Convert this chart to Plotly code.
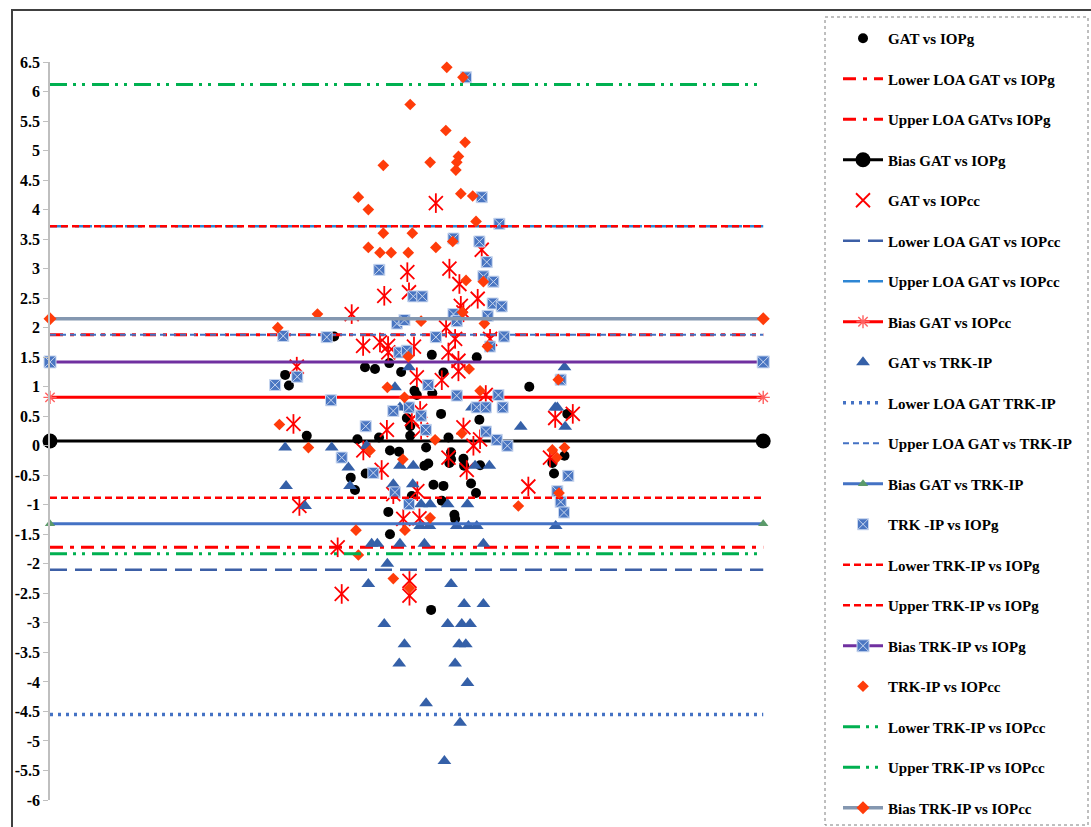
import plotly.graph_objects as go

# ---- Bland-Altman differences (y) against mean IOP (x), mmHg ----
gat_iopg_x = [11.95, 9.89, 10.05, 10.80, 12.93, 13.25, 13.67, 14.27, 14.77, 16.06,
              17.95, 16.55, 15.33, 15.43, 16.08, 15.01, 15.15, 15.15, 16.45, 18.06,
              13.84, 16.76, 14.30, 14.68, 15.82, 16.87, 16.87, 16.80, 17.39, 17.42,
              15.75, 15.91, 18.09, 12.65, 12.83, 13.28, 16.13, 16.55, 17.71, 17.92,
              15.22, 16.48, 17.01, 17.04, 14.23, 14.30, 16.03, 20.16, 21.76, 21.64,
              21.13, 21.20]
gat_iopg_y = [1.85, 1.20, 1.02, 0.17, 0.11, 1.33, 1.30, 1.40, 1.25, 1.54,
              1.50, 1.24, 0.93, 0.86, 0.89, 0.47, 0.33, 0.17, 0.54, 0.44,
              0.14, 0.14, -0.08, -0.10, -0.03, -0.11, -0.23, -0.29, -0.22, -0.34,
              -0.34, -0.30, -0.33, -0.54, -0.75, -0.47, -0.66, -0.68, -0.64, -0.80,
              -0.85, -0.93, -1.17, -1.24, -1.12, -1.50, -2.78, 1.00, 0.54, -0.17,
              -0.29, -0.47]

gat_iopcc_x = [16.23, 18.16, 16.80, 15.03, 17.22, 14.06, 15.10, 17.28, 17.39, 17.99,
               12.69, 16.66, 17.04, 18.51, 13.17, 13.88, 14.22, 10.38, 10.24, 15.31,
               15.43, 16.76, 17.18, 17.18, 16.48, 18.33, 15.22, 15.57, 15.61, 14.17,
               17.39, 17.81, 18.09, 13.18, 16.76, 13.95, 17.53, 14.44, 15.45, 10.49,
               14.86, 15.54, 12.10, 21.25, 21.99, 21.03, 20.12, 12.27, 15.12, 15.12,
               14.23]
gat_iopcc_y = [4.11, 3.32, 3.00, 2.94, 2.74, 2.54, 2.60, 2.37, 2.26, 2.49,
               2.23, 2.00, 1.81, 1.81, 1.69, 1.75, 1.69, 1.34, 0.37, 1.68,
               1.16, 1.58, 1.44, 1.26, 1.11, 0.86, 0.45, 0.59, 0.27, 0.27,
               0.31, 0.00, 0.11, -0.08, -0.20, -0.41, -0.41, -0.82, -0.77, -1.02,
               -1.24, -1.23, -1.72, 0.47, 0.54, -0.20, -0.69, -2.51, -2.29, -2.54,
               1.58]

gat_trk_x = [9.89, 11.85, 9.93, 10.73, 14.51, 14.72, 15.10, 15.10, 13.32, 12.55,
             12.62, 14.72, 15.28, 14.44, 15.26, 15.61, 15.99, 16.73, 17.56, 17.75,
             17.88, 18.48, 15.57, 15.96, 17.11, 17.60, 17.95, 13.53, 13.77, 14.72,
             15.75, 18.23, 19.80, 14.19, 13.39, 16.87, 17.42, 18.23, 14.06, 16.73,
             17.32, 17.67, 14.91, 17.21, 17.49, 14.69, 17.04, 17.56, 15.82, 17.25,
             16.59, 21.64, 21.25, 21.34, 21.67, 21.27]
gat_trk_y = [-0.03, -0.03, -0.68, -1.02, 0.99, 0.65, 0.65, 1.33, 0.00, -0.37,
             -0.68, -0.34, -0.34, -0.65, -0.65, -0.99, -0.99, -0.99, -0.99, 0.65,
             -0.34, -0.34, -1.36, -1.36, -1.36, -1.36, -1.36, -1.66, -1.66, -1.66,
             -1.66, -1.66, 0.32, -2.00, -2.34, -2.34, -2.68, -2.68, -3.02, -3.02,
             -3.02, -3.02, -3.36, -3.36, -3.36, -3.69, -3.69, -4.02, -4.36, -4.69,
             -5.34, 1.33, 0.65, 0.65, 0.32, -1.36]

trk_iopg_x = [17.50, 18.16, 18.90, 16.97, 18.06, 18.37, 18.23, 18.65, 13.85, 15.28,
              15.66, 18.62, 19.00, 18.41, 14.59, 14.91, 16.97, 17.11, 9.81, 11.64,
              16.23, 19.10, 18.51, 9.47, 10.40, 11.82, 13.28, 12.27, 13.60, 14.69,
              15.01, 15.91, 14.44, 15.10, 15.61, 15.81, 17.11, 18.86, 17.95, 18.33,
              19.04, 18.34, 18.79, 19.24, 14.51, 15.10, 21.48, 21.80, 21.34, 21.48,
              21.62]
trk_iopg_y = [6.24, 4.21, 3.76, 3.51, 3.46, 3.11, 2.87, 2.78, 2.98, 2.53,
              2.53, 2.41, 2.36, 2.20, 2.07, 2.13, 2.23, 2.11, 1.86, 1.84,
              1.84, 1.85, 1.68, 1.03, 1.17, 0.77, 0.33, -0.20, -0.46, 1.58,
              1.61, 1.03, 0.59, 0.65, 0.51, 0.27, 0.85, 0.86, 0.65, 0.65,
              0.65, 0.24, 0.10, 0.00, -0.79, -0.99, 1.12, -0.51, -0.77, -0.95,
              -1.13]

trk_iopcc_x = [16.69, 17.37, 15.15, 16.65, 17.46, 17.18, 17.11, 17.07, 15.99, 14.02,
               12.97, 13.39, 17.28, 17.78, 17.92, 14.02, 15.24, 13.39, 13.88, 14.35,
               15.07, 16.23, 16.94, 17.50, 18.23, 11.25, 9.58, 15.61, 18.27, 17.35,
               18.40, 17.63, 15.07, 14.19, 18.09, 14.91, 9.65, 10.87, 13.46, 16.20,
               17.32, 14.84, 12.87, 14.93, 15.99, 19.70, 12.97, 14.44, 15.12, 21.38,
               21.13, 21.32, 21.64, 21.41]
trk_iopcc_y = [6.41, 6.24, 5.78, 5.34, 5.14, 4.90, 4.80, 4.67, 4.80, 4.75,
               4.21, 4.00, 4.27, 4.23, 3.80, 3.60, 3.60, 3.36, 3.27, 3.27,
               3.27, 3.36, 3.46, 2.80, 2.78, 2.23, 2.00, 2.11, 2.07, 2.26,
               1.68, 1.30, 1.51, 0.99, 0.93, 0.82, 0.36, -0.03, -0.08, 0.10,
               0.21, -0.23, -1.43, -1.43, -1.22, -1.02, -1.85, -2.25, -2.41, 1.12,
               -0.07, -0.20, -0.03, -0.80]

# ---- bias and limits of agreement ----
bias_gat_iopg, lower_gat_iopg, upper_gat_iopg = 0.08, -1.72, 1.88
bias_gat_iopcc, lower_gat_iopcc, upper_gat_iopcc = 0.82, -2.10, 3.72
bias_gat_trk, lower_gat_trk, upper_gat_trk = -1.32, -4.55, 1.88
bias_trk_iopg, lower_trk_iopg, upper_trk_iopg = 1.42, -0.88, 3.72
bias_trk_iopcc, lower_trk_iopcc, upper_trk_iopcc = 2.15, -1.83, 6.12

line_x = [0, 30]   # horizontal reference lines span the mean-IOP range

y_ticks = [6.5 - 0.5 * i for i in range(26)]
y_tick_text = [("%g" % v) for v in y_ticks]

RED = "#ff0000"
GREEN = "#00b050"
BLUE = "#4472c4"
DARK_BLUE = "#3c5fa6"
LIGHT_BLUE = "#2e86d4"
TRI_BLUE = "#3560a8"
SQ_BLUE = "#4a76c2"
ORANGE = "#ff3c0a"

fig = go.Figure()
gid = [0]


def add(trace):
    gid[0] += 1
    trace.legendgroup = "g%d" % gid[0]
    trace.cliponaxis = False
    fig.add_trace(trace)


def hline(name, level, color, dash, width):
    add(go.Scatter(x=line_x, y=[level, level], mode="lines", name=name,
                   line=dict(color=color, dash=dash, width=width)))


# GAT vs IOPg
add(go.Scatter(x=gat_iopg_x, y=gat_iopg_y, mode="markers", name="GAT vs IOPg",
               marker=dict(symbol="circle", size=10, color="black")))
hline("Lower LOA GAT vs IOPg", lower_gat_iopg, RED, "13px,7px,4px,7px", 3)
hline("Upper LOA GATvs IOPg", upper_gat_iopg, RED, "13px,7px,4px,7px", 3)
add(go.Scatter(x=line_x, y=[bias_gat_iopg] * 2, mode="lines+markers", name="Bias GAT vs IOPg",
               line=dict(color="black", width=3),
               marker=dict(symbol="circle", size=15, color="black")))

# GAT vs IOPcc (six-armed star: x plus vertical stroke)
add(go.Scatter(x=gat_iopcc_x, y=gat_iopcc_y, mode="markers", name="GAT vs IOPcc",
               marker=dict(symbol="x-thin-open", size=14, color=RED, line=dict(width=1.8, color=RED))))
fig.add_trace(go.Scatter(x=gat_iopcc_x, y=gat_iopcc_y, mode="markers", showlegend=False,
                         legendgroup="g%d" % gid[0], cliponaxis=False,
                         marker=dict(symbol="line-ns-open", size=14, color=RED,
                                     line=dict(width=1.8, color=RED))))
hline("Lower LOA GAT vs IOPcc", lower_gat_iopcc, DARK_BLUE, "17px,8px", 2.5)
hline("Upper LOA GAT vs IOPcc", upper_gat_iopcc, LIGHT_BLUE, "17px,8px", 2.5)
add(go.Scatter(x=line_x, y=[bias_gat_iopcc] * 2, mode="lines+markers", name="Bias GAT vs IOPcc",
               line=dict(color=RED, width=3),
               marker=dict(symbol="asterisk-open", size=11, color="#ff6060",
                           line=dict(width=1.4, color="#ff6060"))))

# GAT vs TRK-IP
add(go.Scatter(x=gat_trk_x, y=gat_trk_y, mode="markers", name="GAT vs TRK-IP",
               marker=dict(symbol="triangle-up", size=12, color=TRI_BLUE)))
hline("Lower LOA GAT TRK-IP", lower_gat_trk, BLUE, "3px,5px", 3.5)
hline("Upper LOA GAT vs TRK-IP", upper_gat_trk, BLUE, "6px,4px", 2.2)
add(go.Scatter(x=line_x, y=[bias_gat_trk] * 2, mode="lines+markers", name="Bias GAT vs TRK-IP",
               line=dict(color=BLUE, width=3),
               marker=dict(symbol="triangle-up", size=9, color="#5b9a6a")))

# TRK-IP vs IOPg
add(go.Scatter(x=trk_iopg_x, y=trk_iopg_y, mode="markers", name="TRK -IP vs IOPg",
               marker=dict(symbol="square-x", size=11, color=SQ_BLUE,
                           line=dict(width=1, color="#c9d7ef"))))
hline("Lower TRK-IP vs IOPg", lower_trk_iopg, RED, "7px,4px", 2.5)
hline("Upper TRK-IP vs IOPg", upper_trk_iopg, RED, "7px,4px", 2.5)
add(go.Scatter(x=line_x, y=[bias_trk_iopg] * 2, mode="lines+markers", name="Bias TRK-IP vs IOPg",
               line=dict(color="#7030a0", width=3),
               marker=dict(symbol="square-x", size=12, color=SQ_BLUE,
                           line=dict(width=1, color="#c9d7ef"))))

# TRK-IP vs IOPcc
add(go.Scatter(x=trk_iopcc_x, y=trk_iopcc_y, mode="markers", name="TRK-IP vs IOPcc",
               marker=dict(symbol="diamond", size=9, color=ORANGE)))
hline("Lower TRK-IP vs IOPcc", lower_trk_iopcc, GREEN, "17px,6px,3px,6px,3px,7px", 3)
hline("Upper TRK-IP vs IOPcc", upper_trk_iopcc, GREEN, "17px,6px,3px,6px,3px,7px", 3)
add(go.Scatter(x=line_x, y=[bias_trk_iopcc] * 2, mode="lines+markers", name="Bias TRK-IP vs IOPcc",
               line=dict(color="#8497b0", width=3.5),
               marker=dict(symbol="diamond", size=10, color=ORANGE)))

# plot-area geometry in pixels, used to place the outer frame and legend box
L, T, W, H = 50, 62, 737, 738


def px(xp):
    return (xp - L) / W


def py(yp):
    return (T + H - yp) / H


fig.update_layout(
    width=1091, height=827,
    margin=dict(l=L, r=1091 - L - W, t=T, b=827 - T - H, autoexpand=False),
    plot_bgcolor="white", paper_bgcolor="white",
    showlegend=True,
    legend=dict(x=px(838), y=py(22), xanchor="left", yanchor="top",
                traceorder="grouped", tracegroupgap=18, maxheight=900,
                font=dict(family="Liberation Serif", size=15, color="black", weight="bold"),
                bgcolor="rgba(0,0,0,0)", borderwidth=0, itemwidth=40),
    xaxis=dict(range=[0, 31], visible=False, showgrid=False, zeroline=False),
    yaxis=dict(range=[-6, 6.5], tickvals=y_ticks, ticktext=y_tick_text,
               showgrid=False, zeroline=False, showline=True, linecolor="#bfbfbf",
               linewidth=1.5, ticks="outside", ticklen=5, tickcolor="#bfbfbf",
               tickfont=dict(family="Liberation Serif", size=16, color="black", weight="bold")),
    shapes=[
        dict(type="rect", xref="paper", yref="paper",
             x0=px(12), x1=px(1100), y0=py(10), y1=py(840),
             line=dict(color="#404040", width=2), layer="below"),
        dict(type="rect", xref="paper", yref="paper",
             x0=px(825), x1=px(1088), y0=py(17), y1=py(825),
             line=dict(color="#7f7f7f", width=1, dash="dot"), layer="below"),
    ],
)

fig.write_html("out.html")
